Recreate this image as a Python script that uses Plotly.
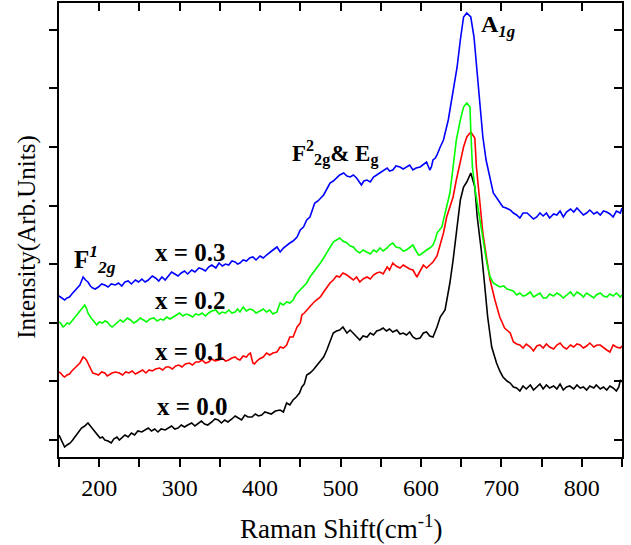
import plotly.graph_objects as go

# ---------------- data: (Raman shift cm^-1, intensity arb. units) ----------------
x00 = [(150,22),(153,17),(157,10),(160,12),(164,14),(167,17),(170,20),(174,24),(178,29),(182,31),(186,34),
       (190,30),(193,27),(195,24),(198,22),(201,19),(204,20),(207,17),(211,16),(215,14),(218,18),(222,20),
       (225,17),(228,19),(232,22),(236,20),(240,24),(244,22),(248,26),(253,25),(257,27),(261,29),(265,26),
       (269,28),(273,25),(277,28),(282,27),(286,29),(290,31),(294,28),(298,29),(302,32),(306,30),(310,32),
       (315,34),(319,31),(323,34),(327,36),(331,33),(335,32),(340,35),(344,38),(348,37),(352,34),(356,37),
       (360,35),(365,38),(369,41),(373,39),(377,37),(381,42),(385,40),(390,40),(394,43),(398,41),(402,42),
       (406,45),(410,44),(414,43),(419,46),(425,47),(429,45),(433,54),(437,52),(441,57),(445,60),(449,64),
       (452,70),(455,73),(458,82),(462,84),(466,87),(470,91),(475,97),(479,100),(483,107),(487,115),(491,124),
       (495,126),(499,127),(503,130),(508,124),(512,127),(516,124),(520,120),(524,117),(528,121),(533,120),
       (537,124),(541,122),(545,126),(549,127),(553,129),(557,126),(561,128),(565,125),(570,127),(574,123),
       (578,124),(582,122),(586,125),(590,120),(594,118),(599,119),(603,124),(607,125),(611,121),(615,120),
       (620,130),(624,140),(630,147),(636,174),(640,197),(644,224),(649,257),(653,270),(657,275),(662,284),
       (667,270),(670,240),(675,207),(679,174),(683,140),(688,110),(694,94),(698,86),(702,80),(707,76),
       (711,74),(715,70),(719,69),(723,66),(727,71),(731,68),(736,72),(740,67),(744,70),(748,73),(752,68),
       (756,72),(760,69),(765,71),(769,68),(773,73),(777,67),(781,70),(785,71),(790,68),(794,72),(798,69),
       (802,70),(806,67),(810,71),(815,69),(818,72),(823,68),(827,70),(831,67),(835,71),(839,69),(843,66),
       (846,70),(848,77),(850,75)]

x01 = [(150,85),(152,84),(155,81),(157,80),(160,82),(163,83),(166,86),(170,89),(173,91),(176,94),(180,100),
       (182,99),(184,97),(188,90),(190,86),(192,84),(196,83),(199,82),(203,85),(207,84),(210,81),(212,82),
       (216,84),(220,85),(225,84),(229,82),(233,85),(237,84),(241,86),(245,83),(250,85),(254,87),(258,84),
       (262,87),(266,86),(270,88),(275,89),(279,87),(283,90),(287,90),(291,88),(295,91),(299,92),(303,90),
       (307,93),(312,94),(316,92),(320,95),(324,95),(328,97),(332,94),(336,95),(340,98),(344,96),(349,97),
       (353,99),(357,96),(361,97),(365,99),(369,100),(372,98),(375,97),(379,101),(383,100),(386,103),
       (388,104),(391,94),(393,93),(395,95),(399,98),(404,100),(408,104),(412,102),(416,104),(421,105),
       (425,110),(429,109),(433,112),(437,120),(441,120),(444,126),(446,130),(450,134),(452,142),(455,144),
       (458,147),(462,150),(466,154),(470,157),(475,160),(479,165),(483,170),(487,174),(491,177),(495,181),
       (499,180),(503,184),(508,182),(512,179),(516,177),(520,180),(524,175),(528,178),(533,180),(537,178),
       (541,182),(545,184),(549,185),(553,183),(558,190),(561,187),(565,194),(569,191),(574,189),(578,192),
       (582,190),(586,188),(590,187),(592,184),(595,180),(599,186),(603,192),(607,189),(611,192),(615,195),
       (620,201),(624,212),(628,224),(632,240),(636,250),(640,260),(644,277),(649,297),(653,310),(657,320),
       (662,325),(667,319),(669,290),(673,257),(677,224),(682,197),(686,177),(692,157),(698,140),(704,129),
       (711,124),(715,115),(719,113),(723,112),(727,109),(731,113),(736,110),(740,106),(744,111),(748,112),
       (752,109),(756,113),(760,110),(765,108),(769,112),(773,114),(777,110),(781,108),(786,112),(790,110),
       (794,113),(798,112),(802,109),(806,111),(810,114),(815,110),(819,112),(823,112),(827,109),(831,107),
       (835,105),(839,112),(843,110),(848,109),(850,111)]

x02 = [(150,135),(152,134),(155,130),(157,131),(160,134),(163,133),(166,136),(170,140),(173,143),(176,147),
       (179,149),(182,152),(184,149),(186,144),(189,140),(192,137),(194,134),(197,132),(200,135),(204,134),
       (207,136),(210,135),(213,132),(216,130),(219,132),(222,134),(226,137),(230,135),(235,139),(239,137),
       (243,134),(247,136),(251,139),(255,137),(259,135),(263,138),(268,139),(272,136),(276,138),(280,137),
       (284,140),(288,138),(292,140),(296,142),(300,144),(304,141),(308,143),(312,142),(316,140),(320,143),
       (324,142),(328,144),(332,141),(336,144),(340,146),(345,147),(349,143),(353,145),(357,144),(361,147),
       (365,144),(369,145),(372,148),(375,145),(379,150),(383,146),(387,148),(391,147),(395,144),(400,146),
       (404,148),(408,145),(412,147),(416,143),(421,145),(423,150),(425,154),(429,152),(433,155),(437,154),
       (441,157),(445,163),(450,167),(454,170),(458,174),(462,180),(466,184),(470,188),(475,194),(479,199),
       (483,204),(487,210),(491,215),(495,217),(499,219),(503,216),(508,214),(512,211),(516,210),(520,206),
       (524,204),(528,207),(533,205),(537,203),(541,207),(545,205),(549,209),(553,206),(558,209),(561,212),
       (565,214),(569,210),(574,209),(578,206),(582,207),(586,210),(590,212),(594,206),(597,202),(599,202),
       (603,205),(607,207),(611,209),(615,212),(618,218),(620,224),(626,230),(632,250),(636,264),(640,290),
       (644,317),(649,337),(653,350),(657,354),(661,350),(662,327),(664,290),(668,264),(673,240),(677,217),
       (682,194),(686,180),(690,174),(694,172),(698,170),(703,171),(707,168),(711,167),(715,166),(719,162),
       (723,164),(727,161),(731,162),(736,165),(740,160),(744,162),(748,164),(752,159),(756,159),(760,163),
       (765,161),(769,164),(773,162),(777,159),(781,162),(786,165),(790,161),(794,165),(798,163),(802,160),
       (806,164),(810,162),(815,159),(818,162),(823,164),(827,161),(831,160),(835,163),(839,161),(843,164),
       (848,160),(850,162)]

x03 = [(150,161),(152,160),(155,158),(157,157),(160,159),(163,160),(166,163),(170,167),(173,169),(176,172),
       (178,176),(180,180),(183,177),(186,175),(189,171),(192,169),(195,168),(199,170),(203,173),(207,172),
       (211,170),(215,173),(220,172),(224,174),(228,171),(232,175),(236,176),(240,173),(245,177),(249,175),
       (253,178),(257,175),(261,177),(266,181),(270,179),(274,176),(278,180),(282,177),(286,181),(290,185),
       (294,183),(298,181),(302,184),(306,186),(310,183),(315,187),(319,185),(324,189),(328,188),(332,186),
       (336,190),(340,192),(345,189),(349,194),(353,191),(357,193),(361,192),(365,196),(369,195),(372,193),
       (375,194),(379,197),(383,196),(387,199),(391,200),(395,197),(400,201),(404,199),(408,202),(412,205),
       (416,207),(421,210),(423,207),(425,205),(429,209),(433,212),(437,214),(441,216),(446,220),(450,227),
       (454,230),(458,237),(462,240),(465,247),(468,254),(472,256),(476,259),(479,262),(483,268),(487,274),
       (491,276),(495,279),(499,282),(504,284),(508,281),(512,280),(516,282),(520,279),(523,275),(526,272),
       (529,276),(533,277),(537,275),(541,280),(545,282),(549,284),(553,286),(558,289),(561,286),(565,287),
       (569,291),(574,290),(578,288),(582,290),(586,292),(590,287),(594,289),(599,290),(603,293),(607,295),
       (609,291),(611,287),(613,290),(615,297),(618,299),(620,302),(624,310),(628,317),(634,337),(640,367),
       (645,390),(649,417),(653,440),(657,444),(662,440),(666,420),(670,384),(673,350),(677,320),(681,297),
       (686,277),(690,264),(696,257),(702,250),(706,249),(711,247),(715,244),(719,242),(723,239),(727,244),
       (732,244),(736,241),(740,238),(744,240),(748,244),(752,241),(756,244),(760,239),(765,243),(769,242),
       (773,246),(777,240),(781,245),(786,248),(790,245),(794,249),(798,246),(802,242),(806,244),(810,247),
       (815,243),(819,245),(823,242),(827,246),(831,245),(835,243),(839,240),(843,246),(848,244),(850,249)]

series_names = ["x = 0.0", "x = 0.1", "x = 0.2", "x = 0.3"]
series_colors = ["#000000", "#FF0000", "#00FF00", "#0000FF"]
series_data = [x00, x01, x02, x03]

x_tick_vals = [150, 200, 250, 300, 350, 400, 450, 500, 550, 600, 650, 700, 750, 800, 850]
x_tick_text = ["", "200", "", "300", "", "400", "", "500", "", "600", "", "700", "", "800", ""]

# ---------------- figure ----------------
FONT = "Liberation Serif, Times New Roman, serif"
fig = go.Figure()
for name, col, pts in zip(series_names, series_colors, series_data):
    fig.add_trace(go.Scatter(x=[p[0] for p in pts], y=[p[1] for p in pts], mode="lines", name=name,
                             line=dict(color=col, width=1.6), showlegend=False))
# dummy trace so the mirrored (inward tick) axes are drawn
fig.add_trace(go.Scatter(x=[None], y=[None], xaxis="x2", yaxis="y2", showlegend=False,
                         hoverinfo="skip"))

XR = [150, 850]
YR = [0, 454]
fig.update_layout(
    width=631, height=545,
    margin=dict(l=59, r=9, t=3, b=88),
    paper_bgcolor="white", plot_bgcolor="white",
    font=dict(family=FONT, color="black"),
    xaxis=dict(range=XR, showgrid=False, zeroline=False, showline=True, linecolor="black",
               linewidth=2, ticks="outside", ticklen=8, tickwidth=2, tickcolor="black",
               tickmode="array", tickvals=x_tick_vals, ticktext=x_tick_text,
               tickfont=dict(family=FONT, size=24)),
    yaxis=dict(range=YR, showgrid=False, zeroline=False, showline=True, linecolor="black",
               linewidth=2, ticks="outside", ticklen=8, tickwidth=2, tickcolor="black",
               tick0=17, dtick=58.6, showticklabels=False),
    xaxis2=dict(range=XR, overlaying="x", side="top", anchor="y", showgrid=False,
                zeroline=False, showline=True, linecolor="black", linewidth=2,
                ticks="inside", ticklen=8, tickwidth=2, tickcolor="black",
                tick0=150, dtick=50, showticklabels=False),
    yaxis2=dict(range=YR, overlaying="y", side="right", anchor="x", showgrid=False,
                zeroline=False, showline=True, linecolor="black", linewidth=2,
                ticks="inside", ticklen=8, tickwidth=2, tickcolor="black",
                tick0=17, dtick=58.6, showticklabels=False),
)

ann = []
# axis titles
ann.append(dict(text="Raman Shift(cm<sup>-1</sup>)", xref="paper", yref="paper",
                x=0.5, y=-0.155, xanchor="center", yanchor="middle", showarrow=False,
                font=dict(family=FONT, size=27)))
ann.append(dict(text="Intensity(Arb.Units)", xref="paper", yref="paper",
                x=-0.057, y=0.485, xanchor="center", yanchor="middle", textangle=-90,
                showarrow=False, font=dict(family=FONT, size=25)))
# series labels
label_pos = [(269, 51), (267, 106), (267, 157), (267, 205)]
for name, (lx, ly) in zip(series_names, label_pos):
    ann.append(dict(text="<b>" + name + "</b>", x=lx, y=ly, xanchor="left", yanchor="middle",
                    showarrow=False, font=dict(family=FONT, size=25)))
# mode labels
ann.append(dict(text="<b>F<sup><i>1</i></sup><sub><i>2g</i></sub></b>", x=166, y=198,
                xanchor="left", yanchor="middle", showarrow=False, font=dict(family=FONT, size=25)))
ann.append(dict(text="<b>F<sup>2</sup><sub>2g</sub>& E<sub>g</sub></b>", x=437, y=304,
                xanchor="left", yanchor="middle", showarrow=False, font=dict(family=FONT, size=23)))
ann.append(dict(text="<b>A<sub><i>1g</i></sub></b>", x=672, y=431,
                xanchor="left", yanchor="middle", showarrow=False, font=dict(family=FONT, size=24)))
fig.update_layout(annotations=ann)

fig.write_html("out.html", config={"displayModeBar": False},
               post_script="document.body.style.margin='0';")
